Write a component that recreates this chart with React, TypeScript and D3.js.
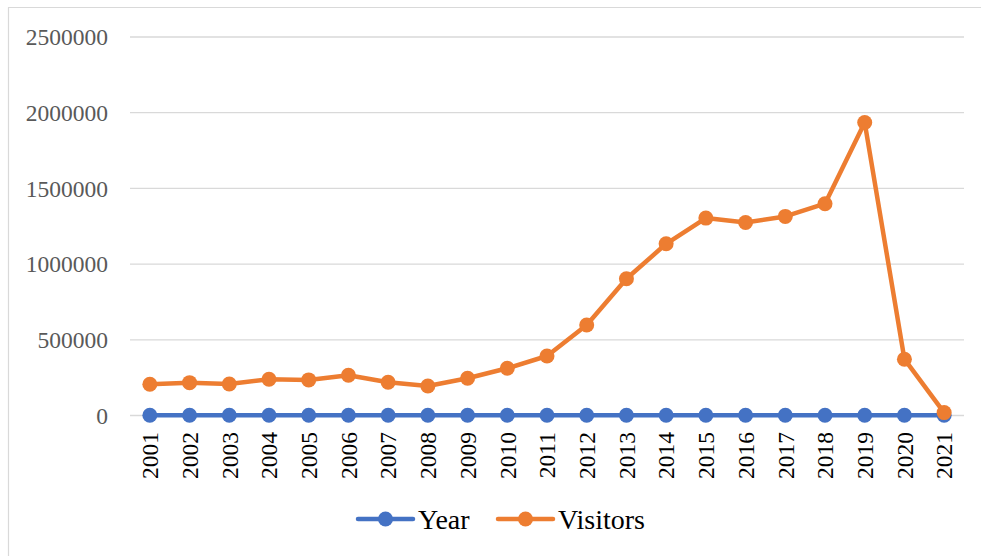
import React, { useEffect, useRef } from "react";
import * as d3 from "d3";

const years = [
  "2001", "2002", "2003", "2004", "2005", "2006", "2007", "2008", "2009", "2010",
  "2011", "2012", "2013", "2014", "2015", "2016", "2017", "2018", "2019", "2020", "2021",
];
const yearValues = [
  2001, 2002, 2003, 2004, 2005, 2006, 2007, 2008, 2009, 2010,
  2011, 2012, 2013, 2014, 2015, 2016, 2017, 2018, 2019, 2020, 2021,
];
const visitorValues = [
  206000, 217000, 208000, 239000, 235000, 266000, 220000, 195000, 246000, 312000,
  393000, 598000, 903000, 1134000, 1304000, 1275000, 1315000, 1399000, 1935000, 372000, 19000,
];
const yTicks = [0, 500000, 1000000, 1500000, 2000000, 2500000];
const seriesNames = ["Year", "Visitors"];
const seriesColors = ["#4472C4", "#ED7D31"];

const W = 981;
const H = 556;
const FONT = "'Liberation Serif', 'Times New Roman', serif";

export default function App() {
  const ref = useRef<SVGSVGElement | null>(null);

  useEffect(() => {
    const svg = d3.select(ref.current);
    svg.selectAll("*").remove();

    const x = d3.scaleBand<string>().domain(years).range([130, 964]);
    const y = d3.scaleLinear().domain([0, 2500000]).range([415.5, 37]);
    const cx = (d: string) => (x(d) as number) + x.bandwidth() / 2;

    // frame (left and top edges)
    svg.append("line")
      .attr("x1", 8.5).attr("x2", 8.5).attr("y1", 7.5).attr("y2", H)
      .attr("stroke", "#D9D9D9").attr("stroke-width", 1.2);
    svg.append("line")
      .attr("x1", 8).attr("x2", W).attr("y1", 7.5).attr("y2", 7.5)
      .attr("stroke", "#D9D9D9").attr("stroke-width", 1.2);

    // gridlines + y labels
    const g = svg.append("g");
    yTicks.forEach((t) => {
      g.append("line")
        .attr("x1", 130).attr("x2", 964)
        .attr("y1", y(t)).attr("y2", y(t))
        .attr("stroke", "#D9D9D9").attr("stroke-width", 1.3);
      g.append("text")
        .attr("x", 108).attr("y", y(t))
        .attr("dy", "0.35em")
        .attr("text-anchor", "end")
        .attr("font-family", FONT).attr("font-size", 23.5)
        .attr("fill", "#595959")
        .text(String(t));
    });

    // x labels, rotated
    years.forEach((yr) => {
      g.append("text")
        .attr("transform", `translate(${cx(yr)},432) rotate(-90)`)
        .attr("text-anchor", "end")
        .attr("dy", "0.35em")
        .attr("font-family", FONT).attr("font-size", 23.5)
        .attr("fill", "#000")
        .text(yr);
    });

    const line = d3.line<number>()
      .x((_, i) => cx(years[i]))
      .y((v) => y(v));

    [yearValues, visitorValues].forEach((vals, si) => {
      const s = svg.append("g");
      s.append("path")
        .attr("d", line(vals) as string)
        .attr("fill", "none")
        .attr("stroke", seriesColors[si])
        .attr("stroke-width", 4.5)
        .attr("stroke-linejoin", "round");
      s.selectAll("circle")
        .data(vals)
        .join("circle")
        .attr("cx", (_, i) => cx(years[i]))
        .attr("cy", (v) => y(v))
        .attr("r", 7.5)
        .attr("fill", seriesColors[si]);
    });

    // legend
    const legendX = [358, 498];
    seriesNames.forEach((name, i) => {
      const lg = svg.append("g").attr("transform", `translate(${legendX[i]},519)`);
      lg.append("line")
        .attr("x1", 0).attr("x2", 55).attr("y1", 0).attr("y2", 0)
        .attr("stroke", seriesColors[i]).attr("stroke-width", 4.5)
        .attr("stroke-linecap", "round");
      lg.append("circle").attr("cx", 27.5).attr("cy", 0).attr("r", 7.5)
        .attr("fill", seriesColors[i]);
      lg.append("text")
        .attr("x", 60).attr("y", 0).attr("dy", "0.35em")
        .attr("font-family", FONT).attr("font-size", 28)
        .attr("fill", "#000")
        .text(name);
    });
  }, []);

  return (
    <svg
      ref={ref}
      width={W}
      height={H}
      style={{ position: "absolute", left: 0, top: 0, background: "#fff" }}
    />
  );
}
